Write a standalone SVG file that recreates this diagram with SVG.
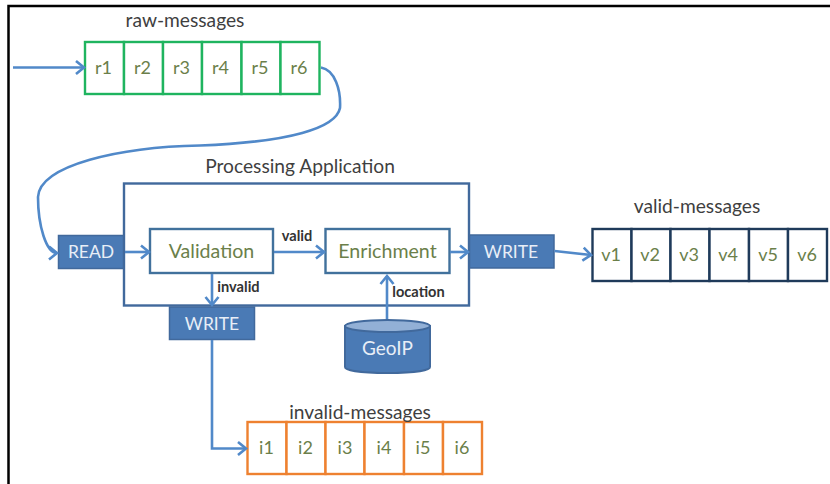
<svg xmlns="http://www.w3.org/2000/svg" width="830" height="484" viewBox="0 0 830 484">
<style>
text{font-family:Lato,"Open Sans","Liberation Sans",sans-serif;text-anchor:middle}
.t{font-size:19.200px;fill:#3f3f3f}
.c{font-size:18px;fill:#6b7f4a}
.b{font-size:19.600px;fill:#6b7f4a}
.w{font-size:17.500px;fill:#e8eef7}
.g1{font-size:19px;fill:#e8eef7}
.l{font-size:14.600px;font-weight:700;fill:#333}
.cell{fill:#fff;stroke-width:2.400}
.g{stroke:#1fb45f}.o{stroke:#ee8130}.n{stroke:#1f3a5a}
.box{fill:#fff;stroke:#41719c;stroke-width:2.400}
.blue{fill:#4a7ab5;stroke:#41699c;stroke-width:1.500}
.con{fill:none;stroke:#5189c9;stroke-width:2.600;marker-end:url(#a)}
</style>
<defs>
<marker id="a" markerUnits="userSpaceOnUse" markerWidth="14" markerHeight="16" refX="11" refY="8" orient="auto"><path d="M3 1.500L11 8L3 14.500" fill="none" stroke="#5189c9" stroke-width="2.600"/></marker>
<g id="six"><rect class="cell" width="39" height="52"/><rect class="cell" x="39" width="39" height="52"/><rect class="cell" x="78" width="39" height="52"/><rect class="cell" x="117" width="39.500" height="52"/><rect class="cell" x="156.500" width="39" height="52"/><rect class="cell" x="195.500" width="39" height="52"/></g>
</defs>
<rect width="830" height="484" fill="#fff"/>
<path d="M8.500 484V6H830" fill="none" stroke="#000" stroke-width="2.500"/>
<g id="processing-application"><rect x="124" y="183.500" width="345" height="122" fill="#fff" stroke="#41699c" stroke-width="2.400"/><text class="t" x="300" y="173">Processing Application</text></g>
<g id="raw-messages" class="g"><use href="#six" x="85" y="42"/><text class="t" x="185" y="27" stroke="none">raw-messages</text><text class="c" stroke="none" x="103.500" y="74">r1</text><text class="c" stroke="none" x="142.500" y="74">r2</text><text class="c" stroke="none" x="181.500" y="74">r3</text><text class="c" stroke="none" x="220.500" y="74">r4</text><text class="c" stroke="none" x="260" y="74">r5</text><text class="c" stroke="none" x="299" y="74">r6</text></g>
<g id="valid-messages" class="n"><use href="#six" x="592.500" y="229"/><text class="t" x="697" y="213" stroke="none">valid-messages</text><text class="c" stroke="none" x="611" y="261">v1</text><text class="c" stroke="none" x="650" y="261">v2</text><text class="c" stroke="none" x="689" y="261">v3</text><text class="c" stroke="none" x="728" y="261">v4</text><text class="c" stroke="none" x="768" y="261">v5</text><text class="c" stroke="none" x="807" y="261">v6</text></g>
<g id="invalid-messages" class="o"><use href="#six" x="247.500" y="422"/><text class="t" x="360" y="419" stroke="none">invalid-messages</text><text class="c" stroke="none" x="266.500" y="454">i1</text><text class="c" stroke="none" x="305.500" y="454">i2</text><text class="c" stroke="none" x="345" y="454">i3</text><text class="c" stroke="none" x="384" y="454">i4</text><text class="c" stroke="none" x="423" y="454">i5</text><text class="c" stroke="none" x="462" y="454">i6</text></g>
<g id="read"><rect class="blue" x="58.500" y="235.500" width="65" height="33"/><text class="w" x="91" y="257.500">READ</text></g>
<g id="validation"><rect class="box" x="150" y="229" width="123" height="44"/><text class="b" x="211.500" y="258">Validation</text></g>
<g id="enrichment"><rect class="box" x="325.500" y="229" width="124" height="44"/><text class="b" x="387.500" y="258">Enrichment</text></g>
<g id="write-valid"><rect class="blue" x="469.500" y="235" width="84.500" height="33"/><text class="w" x="511" y="257.500">WRITE</text></g>
<g id="write-invalid"><rect class="blue" x="169.500" y="307" width="85" height="32.500"/><text class="w" x="212" y="329.500">WRITE</text></g>
<g id="geoip"><path d="M345 326V367C345 375 430 375 430 367V326Z" fill="#4a7ab5" stroke="#41699c" stroke-width="2"/><ellipse cx="387.500" cy="326" rx="42.500" ry="6" fill="#92b0d6" stroke="#41699c" stroke-width="2"/><text class="g1" x="387.500" y="355">GeoIP</text></g>
<g id="connectors">
<path class="con" d="M13 67.500H84"/>
<path class="con" d="M321 67.500C335 70 341 90 340 108C336 128 290 142 200 145.500C120 147 40 165 38 197C38 225 46 253 57 253"/>
<path class="con" d="M125 252H149"/>
<path class="con" d="M274 252H324"/>
<path class="con" d="M450 252H468"/>
<path class="con" d="M554.500 251L591 255"/>
<path class="con" d="M212 274V305"/>
<path class="con" d="M387 319V276"/>
<path class="con" d="M212 340V448.500H246"/>
</g>
<g id="connector-labels"><text class="l" x="297" y="241">valid</text><text class="l" x="238.500" y="292">invalid</text><text class="l" x="418.500" y="297">location</text></g>
</svg>
